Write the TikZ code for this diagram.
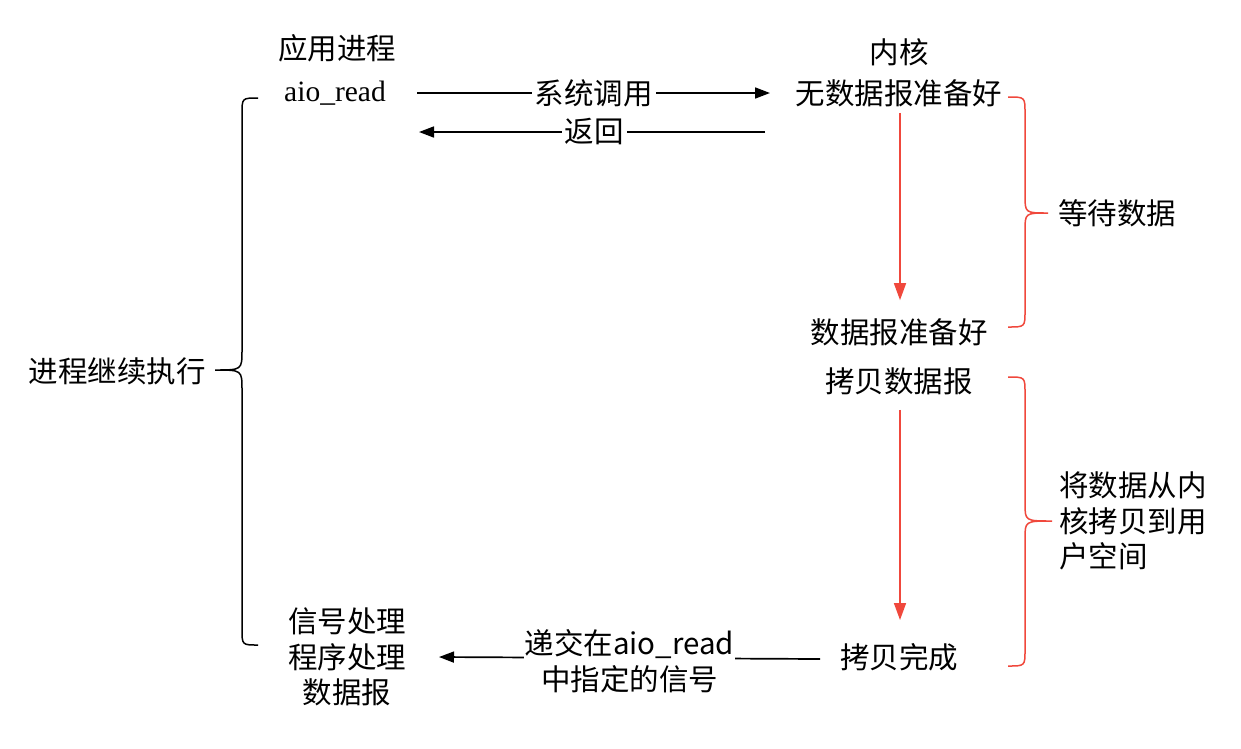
\documentclass[tikz,border=0pt]{standalone}
\usepackage{fontspec}
\setmainfont{Noto Sans CJK SC}
\newfontfamily\serifen{Liberation Serif}
\usetikzlibrary{arrows.meta}
\definecolor{redc}{RGB}{240,72,60}
\begin{document}
\begin{tikzpicture}[x=1pt,y=-1pt,
  txt/.style={font=\fontsize{29.5}{35.5}\selectfont, inner sep=0pt, align=center},
  lbl/.style={txt, fill=white, inner sep=3pt},
  blkline/.style={line width=1.7pt, black},
  blkarrow/.style={blkline, -{Triangle[length=15pt,width=11pt]}},
  redline/.style={line width=1.6pt, redc},
  redarrow/.style={redline, -{Triangle[length=17pt,width=12pt]}},
  bracestyle/.style={line width=1.5pt}]
\useasboundingbox (0,0) rectangle (1241,748);
\fill[white] (0,0) rectangle (1241,748);

% text nodes
\node[txt] (app) at (337,48) {应用进程};
\node[txt, font=\serifen\fontsize{29.5}{34}\selectfont] (aio) at (335,93) {aio\_read};
\node[txt] (k1) at (899,52) {内核};
\node[txt] (k2) at (899,93) {无数据报准备好};
\node[txt] (k3) at (899,332) {数据报准备好};
\node[txt] (k4) at (899,381) {拷贝数据报};
\node[txt] (k5) at (899,657) {拷贝完成};
\node[txt] (sig) at (347,657) {信号处理\\程序处理\\数据报};
\node[txt] (cont) at (117,371) {进程继续执行};
\node[txt] (wait) at (1117,213) {等待数据};
\node[txt, align=left, anchor=west] (copy) at (1059,521) {将数据从内\\核拷贝到用\\户空间};

% horizontal connectors
\coordinate (c1s) at (417,93);
\coordinate (c1e) at (770,93);
\draw[blkarrow] (c1s) -- node[lbl] {系统调用} (c1e);
\coordinate (c2s) at (765,132);
\coordinate (c2e) at (419,132);
\draw[blkarrow] (c2s) -- node[lbl, xshift=2pt] {返回} (c2e);
\coordinate (c3s) at (820,659);
\draw[blkarrow] (c3s) -- node[lbl, inner sep=1pt, yshift=-3pt] {递交在aio\_read\\中指定的信号} (sig.east -| 439,659);

% red vertical connectors
\draw[redarrow] ([xshift=1pt,yshift=-6pt]k2.south) -- ([xshift=1pt,yshift=18pt]k3.north);
\draw[redarrow] ([xshift=1pt,yshift=-15pt]k4.south) -- ([xshift=1pt,yshift=23pt]k5.north);

% left black brace
\draw[bracestyle, black] (258,98) .. controls (242,98) .. (242,114) -- (242,350)
  .. controls (242,370) .. (215,370) .. controls (242,370) .. (242,390)
  -- (242,629) .. controls (242,645) .. (258,645);

% red braces
\draw[bracestyle, redc] (1008,97) .. controls (1025,97) .. (1025,113) -- (1025,195)
  .. controls (1025,213) .. (1048,213) .. controls (1025,213) .. (1025,231)
  -- (1025,311) .. controls (1025,327) .. (1008,327);
\draw[bracestyle, redc] (1008,377) .. controls (1025,377) .. (1025,393) -- (1025,503)
  .. controls (1025,521) .. (1052,521) .. controls (1025,521) .. (1025,539)
  -- (1025,650) .. controls (1025,666) .. (1008,666);
\end{tikzpicture}
\end{document}
